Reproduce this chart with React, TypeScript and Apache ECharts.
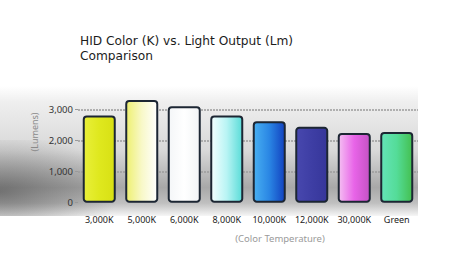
import React, { useEffect, useRef } from "react";
import * as echarts from "echarts";

const categories = ["3,000K", "5,000K", "6,000K", "8,000K", "10,000K", "12,000K", "30,000K", "Green"];
const lumens = [2800, 3300, 3100, 2800, 2620, 2440, 2240, 2270];
const yTicks = [0, 1000, 2000, 3000];
const titleLines = ["HID Color (K) vs. Light Output (Lm)", "Comparison"];
const barGradients: string[][] = [
  ["#e9f03a", "#dfe81e", "#d8e014"],
  ["#eef070", "#f8f8c8", "#ffffff"],
  ["#f4f6f8", "#ffffff", "#f2f4f6"],
  ["#f4ffff", "#b8f4f4", "#5adcd8"],
  ["#48b0f2", "#2a86e4", "#1242c0"],
  ["#4848ae", "#3e3ea4", "#36369a"],
  ["#f4bff2", "#e864e8", "#c452c4"],
  ["#64e4b8", "#54dc98", "#44c050"],
];

export default function App() {
  const ref = useRef<HTMLDivElement>(null);
  useEffect(() => {
    document.body.style.margin = "0";
    const chart = echarts.init(ref.current!, null, { renderer: "svg" });
    const font = "'Noto Sans', 'DejaVu Sans', sans-serif";
    const titleFont = "'DejaVu Sans', 'Noto Sans', sans-serif";
    const grad = (c: string[]) =>
      new echarts.graphic.LinearGradient(0, 0, 1, 0, [
        { offset: 0, color: c[0] },
        { offset: 0.5, color: c[1] },
        { offset: 1, color: c[2] },
      ]);
    chart.setOption({
      animation: false,
      backgroundColor: "#ffffff",
      textStyle: { fontFamily: font },
      graphic: [
        {
          type: "rect",
          z: -10,
          silent: true,
          shape: { x: 0, y: 86, width: 418, height: 130 },
          style: {
            fill: new echarts.graphic.LinearGradient(0, 0, 0, 1, [
              { offset: 0, color: "#ffffff" },
              { offset: 0.12, color: "#efefef" },
              { offset: 0.5, color: "#d8d8d8" },
              { offset: 0.78, color: "#a8a8a8" },
              { offset: 0.9, color: "#bfbfbf" },
              { offset: 1, color: "#f6f6f6" },
            ]),
          },
        },
        {
          type: "rect",
          z: -9,
          silent: true,
          shape: { x: 0, y: 140, width: 160, height: 76 },
          style: {
            fill: new echarts.graphic.RadialGradient(0, 0.68, 0.75, [
              { offset: 0, color: "rgba(55,55,55,0.5)" },
              { offset: 1, color: "rgba(60,60,60,0)" },
            ]),
          },
        },
        {
          type: "text",
          x: 80,
          y: 41.3,
          style: {
            text: titleLines[0],
            fontSize: 12.2,
            fill: "#1c1c1c",
            fontFamily: titleFont,
            verticalAlign: "middle",
          },
        },
        {
          type: "text",
          x: 80,
          y: 55.6,
          style: {
            text: titleLines[1],
            fontSize: 12.2,
            fill: "#1c1c1c",
            fontFamily: titleFont,
            verticalAlign: "middle",
          },
        },
        {
          type: "text",
          x: 34,
          y: 132,
          rotation: Math.PI / 2,
          style: {
            text: "(Lumens)",
            fontSize: 9,
            fill: "#8a8a8a",
            fontFamily: font,
            align: "center",
            verticalAlign: "middle",
          },
        },
        {
          type: "text",
          x: 280,
          y: 238,
          style: {
            text: "(Color Temperature)",
            fontSize: 9.5,
            fill: "#9a9a9a",
            fontFamily: font,
            align: "center",
            verticalAlign: "middle",
          },
        },
      ],
      grid: { left: 78, right: 56, top: 109.3, bottom: 72.3 },
      xAxis: {
        type: "category",
        data: categories,
        axisLine: { show: false },
        axisTick: { show: false },
        axisLabel: { color: "#222", fontSize: 9, margin: 12, interval: 0, fontFamily: font },
      },
      yAxis: {
        type: "value",
        min: yTicks[0],
        max: yTicks[yTicks.length - 1],
        interval: 1000,
        axisLine: { show: false },
        axisTick: { show: true, length: 3, lineStyle: { color: "#999" } },
        axisLabel: {
          color: "#333",
          fontSize: 9.5,
          margin: 5,
          fontFamily: font,
          formatter: (v: number) => v.toLocaleString("en-US"),
        },
        splitLine: {
          show: true,
          showMinLine: false,
          lineStyle: { color: "#9c9c9c", width: 1.5, type: [2, 1] },
        },
      },
      series: [
        {
          type: "bar",
          clip: false,
          barWidth: 33,
          data: lumens.map((v, i) => ({
            value: v,
            itemStyle: {
              color: grad(barGradients[i]),
              borderColor: "#1c2633",
              borderWidth: 2,
              borderRadius: 3,
            },
          })),
        },
      ],
    });
    return () => chart.dispose();
  }, []);
  return <div ref={ref} style={{ position: "fixed", left: 0, top: 0, width: 474, height: 275 }} />;
}
